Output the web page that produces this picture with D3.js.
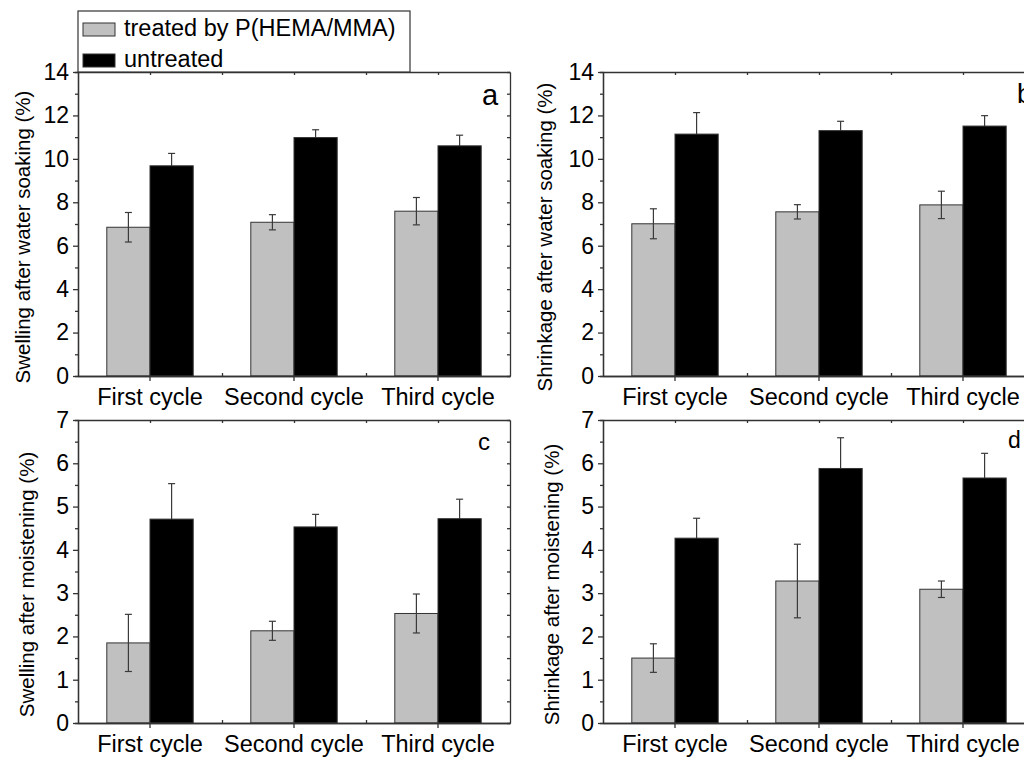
<!DOCTYPE html>
<html>
<head>
<meta charset="utf-8">
<script src="https://cdn.jsdelivr.net/npm/d3@7"></script>
<style>
  body { margin: 0; background: #fff; }
  svg { font-family: "Liberation Sans", Arial, sans-serif; }
</style>
</head>
<body>
<script>
// categories and series
var categories = ["First cycle", "Second cycle", "Third cycle"];
var series = ["treated", "untreated"];
var legendLabels = ["treated by P(HEMA/MMA)", "untreated"];

// (a) swelling after water soaking
var swellSoakTreated = [6.85, 7.08, 7.59];
var swellSoakTreatedErr = [0.68, 0.35, 0.63];
var swellSoakUntreated = [9.68, 10.98, 10.6];
var swellSoakUntreatedErr = [0.57, 0.36, 0.49];

// (b) shrinkage after water soaking
var shrinkSoakTreated = [7.01, 7.56, 7.88];
var shrinkSoakTreatedErr = [0.69, 0.33, 0.63];
var shrinkSoakUntreated = [11.14, 11.3, 11.51];
var shrinkSoakUntreatedErr = [0.99, 0.43, 0.48];

// (c) swelling after moistening
var swellMoistTreated = [1.85, 2.13, 2.53];
var swellMoistTreatedErr = [0.66, 0.22, 0.45];
var swellMoistUntreated = [4.71, 4.53, 4.72];
var swellMoistUntreatedErr = [0.82, 0.29, 0.45];

// (d) shrinkage after moistening
var shrinkMoistTreated = [1.5, 3.28, 3.09];
var shrinkMoistTreatedErr = [0.33, 0.85, 0.19];
var shrinkMoistUntreated = [4.27, 5.88, 5.66];
var shrinkMoistUntreatedErr = [0.46, 0.71, 0.57];

// y tick values
var ticksSoak = [0, 2, 4, 6, 8, 10, 12, 14];
var ticksMoist = [0, 1, 2, 3, 4, 5, 6, 7];

var colors = { treated: "#c0c0c0", untreated: "#000000" };
var axisColor = "#333";

var svg = d3.select("body").append("svg")
    .attr("width", 1024)
    .attr("height", 757);

var W = 432;

function errorBars(g, rows, x, xs, y) {
    var eb = g.selectAll(null)
        .data(rows)
        .enter()
        .append("g")
        .attr("transform", function(d) { return "translate(" + (x(d.cat) + xs(d.key) + xs.bandwidth() / 2) + ",0)"; })
        .attr("stroke", "#3a3a3a")
        .attr("stroke-width", 1.2);
    eb.append("line")
        .attr("y1", function(d) { return y(d.v - d.e); })
        .attr("y2", function(d) { return y(d.v + d.e); });
    eb.append("line")
        .attr("x1", -3.5).attr("x2", 3.5)
        .attr("y1", function(d) { return y(d.v + d.e); })
        .attr("y2", function(d) { return y(d.v + d.e); });
    eb.append("line")
        .attr("x1", -3.5).attr("x2", 3.5)
        .attr("y1", function(d) { return y(d.v - d.e); })
        .attr("y2", function(d) { return y(d.v - d.e); });
}

function drawPanel(p) {
    var H = p.height;
    var g = svg.append("g")
        .attr("transform", "translate(" + p.left + "," + p.top + ")");

    var x = d3.scaleBand().domain(categories).range([0, W])
        .paddingInner(0.4).paddingOuter(0.2);
    var xs = d3.scaleBand().domain(series).range([0, x.bandwidth()]);
    // linear helper for the box ticks between/at categories
    var xl = d3.scaleLinear().domain([0, 3]).range([0, W]);
    var y = d3.scaleLinear().domain([0, d3.max(p.ticks)]).range([H, 0]);

    var rows = [];
    categories.forEach(function(c, i) {
        series.forEach(function(s) {
            rows.push({ cat: c, key: s, v: p.values[s][i], e: p.errors[s][i] });
        });
    });

    // untreated whiskers go behind the black bars, so only the upper half shows
    errorBars(g, rows.filter(function(d) { return d.key == "untreated"; }), x, xs, y);

    // bars
    g.selectAll("rect.bar")
        .data(rows)
        .enter()
        .append("rect")
        .attr("class", "bar")
        .attr("x", function(d) { return x(d.cat) + xs(d.key); })
        .attr("y", function(d) { return y(d.v); })
        .attr("width", xs.bandwidth())
        .attr("height", function(d) { return H - y(d.v); })
        .attr("fill", function(d) { return colors[d.key]; })
        .attr("stroke", "#333")
        .attr("stroke-width", 1);

    errorBars(g, rows.filter(function(d) { return d.key == "treated"; }), x, xs, y);

    var step = p.ticks[1] - p.ticks[0];
    var minor = p.ticks.slice(0, -1).map(function(t) { return t + step / 2; });

    // left axis with labels
    var left = g.append("g")
        .call(d3.axisLeft(y).tickValues(p.ticks).tickFormat(d3.format("d"))
            .tickSize(5).tickSizeOuter(0).tickPadding(4));
    left.append("g")
        .call(d3.axisLeft(y).tickValues(minor).tickSize(3).tickFormat(""));
    left.selectAll("text")
        .attr("font-size", "23px")
        .attr("fill", "#000");

    // right side, ticks inward
    g.append("g")
        .attr("transform", "translate(" + W + ",0)")
        .call(d3.axisLeft(y).tickValues(p.ticks.concat(minor)).tickSize(3).tickSizeOuter(0).tickFormat(""));

    // bottom axis with category labels
    var bottom = g.append("g")
        .attr("transform", "translate(0," + H + ")")
        .call(d3.axisBottom(x).tickSize(5).tickSizeOuter(0).tickPadding(7));
    bottom.selectAll("text")
        .attr("font-size", "23.5px")
        .attr("fill", "#000");
    g.append("g")
        .attr("transform", "translate(0," + H + ")")
        .call(d3.axisTop(xl).tickValues([1, 2]).tickSize(3).tickSizeOuter(0).tickFormat(""));

    // top side, ticks inward
    g.append("g")
        .call(d3.axisBottom(xl).tickValues([0.5, 1, 1.5, 2, 2.5]).tickSize(3).tickSizeOuter(0).tickFormat(""));

    g.selectAll(".domain, .tick line")
        .attr("stroke", axisColor)
        .attr("stroke-width", 1.3);

    // y title
    g.append("text")
        .attr("transform", "translate(" + p.titleX + "," + (H / 2 + 13) + ") rotate(-90)")
        .attr("text-anchor", "middle")
        .attr("font-size", "20.5px")
        .text(p.title);

    // panel letter
    g.append("text")
        .attr("x", p.letterX)
        .attr("y", p.letterY)
        .attr("font-size", p.letterSize + "px")
        .text(p.letter);
}

drawPanel({
    left: 78, top: 72, height: 304, ticks: ticksSoak,
    values: { treated: swellSoakTreated, untreated: swellSoakUntreated },
    errors: { treated: swellSoakTreatedErr, untreated: swellSoakUntreatedErr },
    title: "Swelling after water soaking (%)", titleX: -48,
    letter: "a", letterX: 404, letterY: 33, letterSize: 29
});
drawPanel({
    left: 603, top: 72, height: 304, ticks: ticksSoak,
    values: { treated: shrinkSoakTreated, untreated: shrinkSoakUntreated },
    errors: { treated: shrinkSoakTreatedErr, untreated: shrinkSoakUntreatedErr },
    title: "Shrinkage after water soaking (%)", titleX: -51,
    letter: "b", letterX: 414, letterY: 31, letterSize: 27
});
drawPanel({
    left: 78, top: 420, height: 303, ticks: ticksMoist,
    values: { treated: swellMoistTreated, untreated: swellMoistUntreated },
    errors: { treated: swellMoistTreatedErr, untreated: swellMoistUntreatedErr },
    title: "Swelling after moistening (%)", titleX: -44,
    letter: "c", letterX: 400, letterY: 30, letterSize: 24
});
drawPanel({
    left: 603, top: 420, height: 303, ticks: ticksMoist,
    values: { treated: shrinkMoistTreated, untreated: shrinkMoistUntreated },
    errors: { treated: shrinkMoistTreatedErr, untreated: shrinkMoistUntreatedErr },
    title: "Shrinkage after moistening (%)", titleX: -44,
    letter: "d", letterX: 405, letterY: 28, letterSize: 23
});

// legend box sitting on top of panel a
var legend = svg.append("g").attr("transform", "translate(78,11)");
legend.append("rect")
    .attr("width", 332).attr("height", 61)
    .attr("fill", "#fff")
    .attr("stroke", axisColor)
    .attr("stroke-width", 1.2);
var li = legend.selectAll("g.item")
    .data(series)
    .enter()
    .append("g")
    .attr("class", "item")
    .attr("transform", function(d, i) { return "translate(5," + (12 + i * 31) + ")"; });
li.append("rect")
    .attr("width", 32).attr("height", 13)
    .attr("fill", function(d) { return colors[d]; })
    .attr("stroke", "#333")
    .attr("stroke-width", 1);
li.append("text")
    .attr("x", 41)
    .attr("y", 13)
    .attr("font-size", "23.5px")
    .text(function(d, i) { return legendLabels[i]; });
</script>
</body>
</html>
